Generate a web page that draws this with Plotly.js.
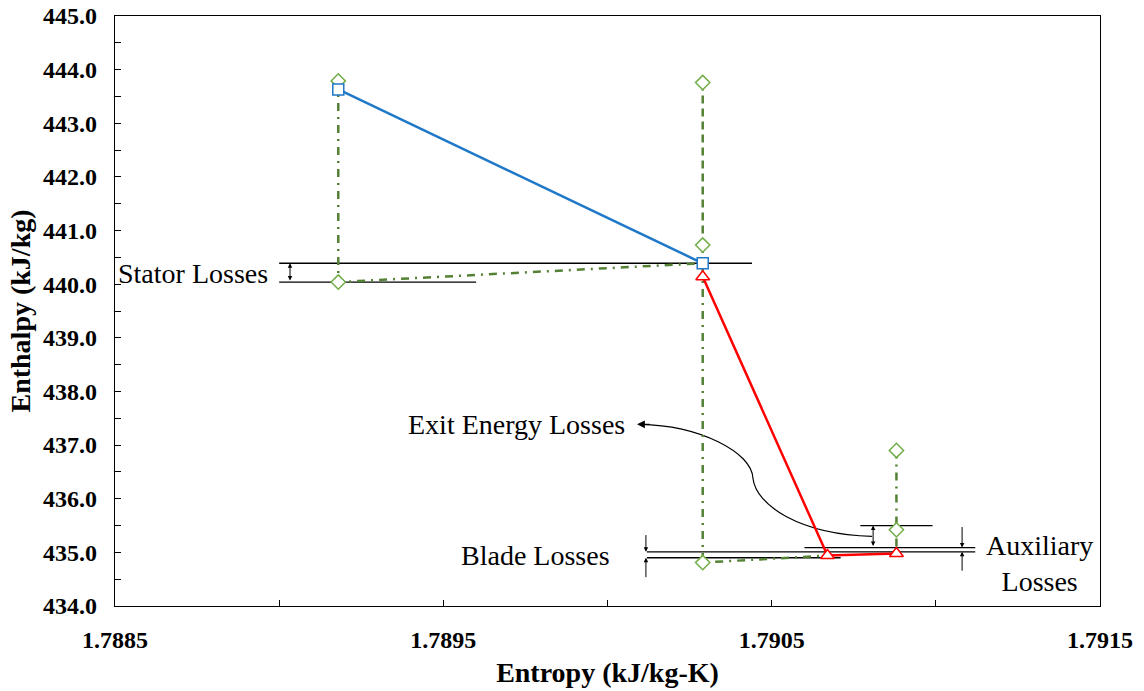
<!DOCTYPE html>
<html>
<head>
<meta charset="utf-8">
<script src="https://cdn.plot.ly/plotly-3.0.1.min.js"></script>
<style>
  html, body { margin: 0; padding: 0; background: #ffffff; }
  #chart { width: 1144px; height: 691px; }
</style>
</head>
<body>
<div id="chart"></div>
<script>
// Stator expansion: inlet -> stator exit (entropy kJ/kg-K, enthalpy kJ/kg)
const statorS = [1.78918, 1.79029];
const statorH = [443.63, 440.39];

// Rotor expansion: rotor inlet -> rotor exit -> after auxiliary losses
const rotorS = [1.79029, 1.79067, 1.79088];
const rotorH = [440.14, 434.94, 434.98];

// Isentropic / stagnation construction lines (dash-dot)
const isoStatorS = [1.78918, 1.78918, 1.79029];
const isoStatorH = [443.79, 440.04, 440.39];
const isoRotorS = [1.79029, 1.79029, 1.79067];
const isoRotorH = [440.73, 434.81, 434.94];
const isoExitS = [1.79088, 1.79088, 1.79088];
const isoExitH = [436.90, 435.42, 434.98];

// Stagnation line at rotor inlet (dashed)
const stagS = [1.79029, 1.79029];
const stagH = [443.76, 440.73];

// Diamond state points
const stateS = [1.78918, 1.78918, 1.79029, 1.79029, 1.79029, 1.79088, 1.79088];
const stateH = [443.79, 440.04, 443.76, 440.73, 434.81, 436.90, 435.42];

// Loss levels (enthalpy) used for the guide lines
const statorLossH = [440.39, 440.04];
const bladeLossH = [435.01, 434.90];
const auxLossH = [435.09, 435.01];
const exitLossH = [435.50, 435.09];

// Loss labels
const lossLabels = ['Stator Losses', 'Exit Energy Losses', 'Blade Losses', 'Auxiliary<br>Losses'];

const serif = 'Liberation Serif, Times New Roman, serif';
const green = '#548235';
const greenMarker = '#70AD47';
const blue = '#1F78C8';
const red = '#FF0000';

const traces = [
  { x: isoStatorS, y: isoStatorH, mode: 'lines',
    line: { color: green, width: 2.5, dash: '8px,6px,2px,6px' } },
  { x: isoRotorS, y: isoRotorH, mode: 'lines',
    line: { color: green, width: 2.5, dash: '8px,6px,2px,6px' } },
  { x: isoExitS, y: isoExitH, mode: 'lines',
    line: { color: green, width: 2.5, dash: '8px,6px,2px,6px' } },
  { x: stagS, y: stagH, mode: 'lines',
    line: { color: green, width: 2.5, dash: '8px,5px' } },
  { x: stateS, y: stateH, mode: 'markers',
    marker: { symbol: 'diamond', size: 11, color: '#ffffff',
              line: { color: greenMarker, width: 1.5 } } },
  { x: statorS, y: statorH, mode: 'lines+markers',
    line: { color: blue, width: 2.5 },
    marker: { symbol: 'square', size: 11, color: '#ffffff',
              line: { color: blue, width: 1.5 } } },
  { x: rotorS, y: rotorH, mode: 'lines+markers',
    line: { color: red, width: 2.5 },
    marker: { symbol: 'triangle-up', size: 12, color: '#ffffff',
              line: { color: red, width: 1.5 } } }
];

function hline(x0, x1, y) {
  return { type: 'line', xref: 'x', yref: 'y', x0: x0, x1: x1, y0: y, y1: y,
           layer: 'below', line: { color: '#000000', width: 1.3 } };
}

const shapes = [
  hline(1.78900, 1.79044, statorLossH[0]),
  hline(1.78900, 1.78960, statorLossH[1]),
  hline(1.79012, 1.79112, bladeLossH[0]),
  hline(1.79012, 1.79071, bladeLossH[1]),
  hline(1.79060, 1.79112, auxLossH[0]),
  hline(1.79077, 1.79099, exitLossH[0]),
  // curved leader from the exit-energy bracket to its label
  { type: 'path', xref: 'x', yref: 'y', layer: 'below',
    path: 'M 1.790806,435.299 C 1.790586,435.336 1.790452,435.877 1.790443,436.381 ' +
          'C 1.790440,436.866 1.790282,437.369 1.790099,437.388',
    line: { color: '#000000', width: 1.2 } }
];

function dimArrow(x, yTip, yTail, both) {
  return { x: x, y: yTip, ax: x, ay: yTail, xref: 'x', yref: 'y', axref: 'x', ayref: 'y',
           text: '', showarrow: true, arrowhead: 2, arrowsize: 0.9, arrowwidth: 1,
           arrowcolor: '#000000', arrowside: both ? 'end+start' : 'end',
           startarrowhead: 2, startarrowsize: 0.9, standoff: 0, startstandoff: 0 };
}

const textFont = { family: serif, size: 28, color: '#000000' };

const annotations = [
  dimArrow(1.789033, statorLossH[0], statorLossH[1], true),
  dimArrow(1.790809, exitLossH[0], exitLossH[1], true),
  dimArrow(1.790117, bladeLossH[0], 435.35, false),
  dimArrow(1.790117, bladeLossH[1], 434.51, false),
  dimArrow(1.791080, auxLossH[0], 435.50, false),
  dimArrow(1.791080, auxLossH[1], 434.63, false),
  // arrowhead at the end of the curved leader
  { x: 1.790090, y: 437.388, ax: 14, ay: 0, xref: 'x', yref: 'y', text: '',
    showarrow: true, arrowhead: 2, arrowsize: 1.3, arrowwidth: 1.2,
    arrowcolor: '#000000', standoff: 0 },
  { x: 1.788972, y: 440.20, xref: 'x', yref: 'y', text: lossLabels[0],
    showarrow: false, xanchor: 'right', yanchor: 'middle', font: textFont },
  { x: 1.790059, y: 437.39, xref: 'x', yref: 'y', text: lossLabels[1],
    showarrow: false, xanchor: 'right', yanchor: 'middle', font: textFont },
  { x: 1.790014, y: 434.94, xref: 'x', yref: 'y', text: lossLabels[2],
    showarrow: false, xanchor: 'right', yanchor: 'middle', font: textFont },
  { x: 1.791317, y: 434.80, xref: 'x', yref: 'y', text: lossLabels[3],
    showarrow: false, xanchor: 'center', yanchor: 'middle', align: 'center',
    font: textFont }
];

const tickFont = { family: serif, size: 24, color: '#000000', weight: 'bold' };
const titleFont = { family: serif, size: 28, color: '#000000', weight: 'bold' };

const layout = {
  width: 1144, height: 691,
  margin: { l: 115, r: 44, t: 16, b: 85 },
  paper_bgcolor: '#ffffff', plot_bgcolor: '#ffffff',
  showlegend: false,
  xaxis: {
    range: [1.7885, 1.7915], tick0: 1.7885, dtick: 0.001, tickformat: '.4f',
    ticks: 'inside', ticklen: 6, tickcolor: '#000000', tickwidth: 1,
    minor: { dtick: 0.0005, ticks: 'inside', ticklen: 6, tickcolor: '#000000' },
    showgrid: false, zeroline: false, showline: true, linecolor: '#000000',
    linewidth: 1.3, mirror: true, tickfont: tickFont, ticklabelstandoff: 12,
    title: { text: 'Entropy (kJ/kg-K)', font: titleFont, standoff: 10 }
  },
  yaxis: {
    range: [434, 445], tick0: 434, dtick: 1, tickformat: '.1f',
    ticks: 'inside', ticklen: 6, tickcolor: '#000000', tickwidth: 1,
    minor: { dtick: 0.5, ticks: 'inside', ticklen: 6, tickcolor: '#000000' },
    showgrid: false, zeroline: false, showline: true, linecolor: '#000000',
    linewidth: 1.3, mirror: true, tickfont: tickFont, ticklabelstandoff: 12,
    title: { text: 'Enthalpy (kJ/kg)', font: titleFont, standoff: 4 }
  },
  shapes: shapes,
  annotations: annotations
};

Plotly.newPlot('chart', traces, layout, { staticPlot: true, displayModeBar: false });
</script>
</body>
</html>
